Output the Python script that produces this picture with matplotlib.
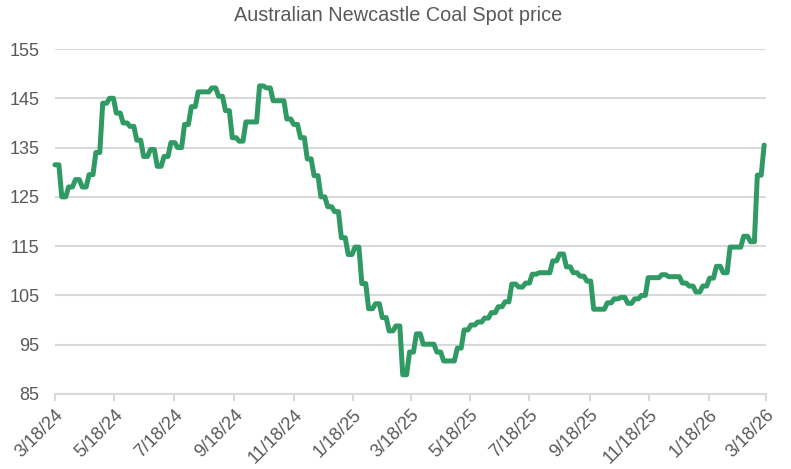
import numpy as np
import pandas as pd
import matplotlib
matplotlib.use("Agg")
import matplotlib.pyplot as plt
import matplotlib.dates as mdates

plt.rcParams['font.family'] = ['Liberation Sans', 'DejaVu Sans']

# Weekly spot price (USD/t)
start_date = "2024-03-18"
prices = [
    131.5, 125.0, 127.0, 128.5, 127.0, 129.5, 134.0, 144.0, 145.0, 142.0,
    140.0, 139.3, 136.5, 133.2, 134.6, 131.2, 133.2, 136.0, 135.0, 139.7,
    143.3, 146.3, 146.3, 147.1, 145.4, 142.5, 137.0, 136.3, 140.2, 140.2,
    147.5, 147.1, 144.5, 144.5, 140.8, 139.7, 137.0, 132.7, 129.3, 125.0,
    123.0, 122.0, 116.7, 113.3, 114.8, 107.4, 102.3, 103.3, 100.5, 97.8,
    98.8, 88.9, 93.5, 97.2, 95.1, 95.1, 93.5, 91.7, 91.7, 94.3,
    98.0, 99.0, 99.6, 100.4, 101.5, 102.7, 103.7, 107.3, 106.7, 107.5,
    109.3, 109.6, 109.6, 112.0, 113.4, 110.8, 109.6, 108.9, 107.9, 102.2,
    102.2, 103.5, 104.3, 104.6, 103.4, 104.3, 105.0, 108.6, 108.6, 109.2,
    108.8, 108.8, 107.5, 106.9, 105.7, 106.9, 108.5, 110.9, 109.6, 114.8,
    114.8, 117.0, 115.9, 129.4, 135.5,
]
tick_dates = ["2024-03-18", "2024-05-18", "2024-07-18", "2024-09-18",
              "2024-11-18", "2025-01-18", "2025-03-18", "2025-05-18",
              "2025-07-18", "2025-09-18", "2025-11-18", "2026-01-18",
              "2026-03-18"]
y_ticks = [85, 95, 105, 115, 125, 135, 145, 155]

weeks = pd.date_range(start_date, periods=len(prices), freq="7D")
weekly = pd.Series(prices, index=weeks)
# price is held over the business days of each week
days = pd.bdate_range(weeks[0], weeks[-1])
daily = weekly.reindex(days, method="ffill")

fig = plt.figure(figsize=(7.91, 4.69), dpi=100)
ax = fig.add_axes([0.0695, 0.160, 0.899, 0.7355])

ax.plot(daily.index, daily.values, color="#2F9A63", linewidth=3.6,
        solid_joinstyle="round", solid_capstyle="round", clip_on=False, zorder=3)

ax.set_ylim(85, 155)
ax.set_yticks(y_ticks)
ax.set_xlim(pd.Timestamp(tick_dates[0]), pd.Timestamp(tick_dates[-1]))
ticks = [pd.Timestamp(d) for d in tick_dates]
ax.set_xticks(ticks)
ax.set_xticklabels([f"{t.month}/{t.day}/{t.strftime('%y')}" for t in ticks],
                   rotation=45, ha="right", rotation_mode="anchor")

ax.grid(axis="y", color="#d9d9d9", linewidth=1.5)
ax.set_axisbelow(True)
for side in ["top", "right", "left"]:
    ax.spines[side].set_visible(False)
ax.spines["bottom"].set_color("#d9d9d9")
ax.spines["bottom"].set_linewidth(1.5)

ax.tick_params(axis="y", length=0, pad=11, labelsize=13, labelcolor="#595959")
ax.tick_params(axis="x", length=5, width=1.5, color="#d9d9d9", pad=4,
               labelsize=13, labelcolor="#595959")

# title is centred on the figure, not on the plot area
fig.text(0.503, 0.968, "Australian Newcastle Coal Spot price", fontsize=14.3,
         color="#595959", ha="center", va="center")

fig.savefig("out.png", dpi=100)
